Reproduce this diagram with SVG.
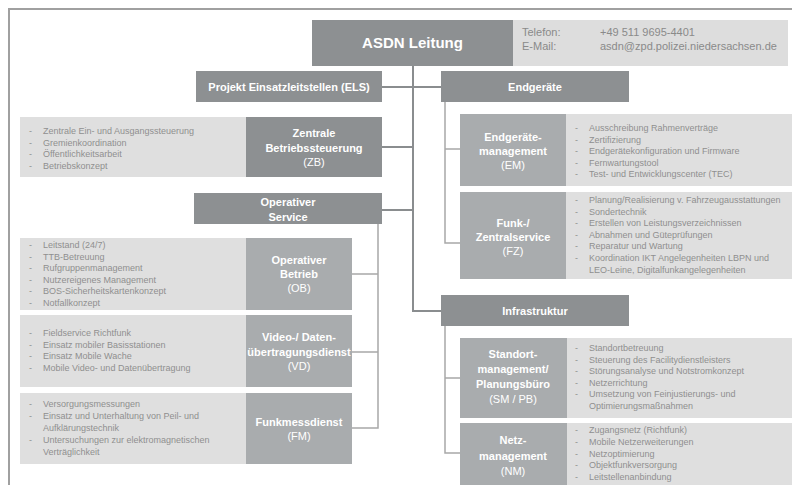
<svg xmlns="http://www.w3.org/2000/svg" width="792" height="485" viewBox="0 0 792 485">
<style>
text{font-family:"Liberation Sans",Arial,sans-serif}
.dark{fill:#8d9092}
.mid{fill:#a9acae}
.light{fill:#dfdfdf}
.h{fill:#fff;font-weight:bold;font-size:11px;text-anchor:middle}
.hn{fill:#fff;font-size:11px;text-anchor:middle}
.li{fill:#8f8f8f;font-size:9px}
.ct{fill:#8a8a8a;font-size:11px}
.trunk{fill:none;stroke:#8a8d8f;stroke-width:2}
.sub{fill:none;stroke:#a8a8a8;stroke-width:1.5}
</style>
<rect width="792" height="485" fill="#fff"/>
<path d="M9,485 V9 H792" fill="none" stroke="#a0a0a0" stroke-width="2"/>
<g id="connectors">
<path class="trunk" d="M413,66 V311 H441"/>
<path class="trunk" d="M382,87 H441"/>
<path class="trunk" d="M382,147 H413"/>
<path class="trunk" d="M382,210 H413"/>
<path class="sub" d="M445,102 V243 H460 M445,149 H460"/>
<path class="sub" d="M378,224 V428 H352 M378,274 H352 M378,352 H352"/>
<path class="sub" d="M445,326 V453 H460 M445,378 H460"/>
</g>
<g id="asdn">
<rect class="dark" x="312" y="20" width="201" height="46"/>
<text x="412.5" y="48" fill="#fff" font-weight="bold" font-size="15" text-anchor="middle">ASDN Leitung</text>
</g>
<g id="contact">
<rect fill="#dddddd" x="513" y="20" width="275" height="46"/>
<text class="ct" x="522" y="36">Telefon:</text>
<text class="ct" x="522" y="49.5">E-Mail:</text>
<text class="ct" x="600" y="36">+49 511 9695-4401</text>
<text class="ct" x="600" y="49.5">asdn@zpd.polizei.niedersachsen.de</text>
</g>
<g id="els">
<rect class="dark" x="196" y="71" width="186" height="31"/>
<text class="h" x="289" y="90.5">Projekt Einsatzleitstellen (ELS)</text>
</g>
<g id="endgeraete">
<rect class="dark" x="441" y="71" width="188" height="31"/>
<text class="h" x="535" y="90.5">Endgeräte</text>
</g>
<g id="zb">
<rect class="light" x="20" y="117" width="226" height="60"/>
<rect class="dark" x="246" y="117" width="136" height="60"/>
<text class="h" x="314" y="137">Zentrale</text>
<text class="h" x="314" y="152">Betriebssteuerung</text>
<text class="hn" x="314" y="166">(ZB)</text>
<text class="li"><tspan x="29" y="134">-</tspan><tspan x="43" y="134">Zentrale Ein- und Ausgangssteuerung</tspan><tspan x="29" y="145.5">-</tspan><tspan x="43" y="145.5">Gremienkoordination</tspan><tspan x="29" y="157">-</tspan><tspan x="43" y="157">Öffentlichkeitsarbeit</tspan><tspan x="29" y="168.5">-</tspan><tspan x="43" y="168.5">Betriebskonzept</tspan></text>
</g>
<g id="em">
<rect class="mid" x="460" y="114" width="106" height="72"/>
<rect class="light" x="566" y="114" width="226" height="72"/>
<text class="h" x="513" y="141">Endgeräte-</text>
<text class="h" x="513" y="155">management</text>
<text class="hn" x="513" y="169">(EM)</text>
<text class="li"><tspan x="575" y="131">-</tspan><tspan x="589" y="131">Ausschreibung Rahmenverträge</tspan><tspan x="575" y="142.6">-</tspan><tspan x="589" y="142.6">Zertifizierung</tspan><tspan x="575" y="154.2">-</tspan><tspan x="589" y="154.2">Endgerätekonfiguration und Firmware</tspan><tspan x="575" y="165.8">-</tspan><tspan x="589" y="165.8">Fernwartungstool</tspan><tspan x="575" y="177.4">-</tspan><tspan x="589" y="177.4">Test- und Entwicklungscenter (TEC)</tspan></text>
</g>
<g id="fz">
<rect class="mid" x="460" y="192" width="106" height="87"/>
<rect class="light" x="566" y="192" width="226" height="87"/>
<text class="h" x="513" y="227">Funk-/</text>
<text class="h" x="513" y="241">Zentralservice</text>
<text class="hn" x="513" y="255">(FZ)</text>
<text class="li"><tspan x="575" y="203">-</tspan><tspan x="589" y="203">Planung/Realisierung v. Fahrzeugausstattungen</tspan><tspan x="575" y="214.6">-</tspan><tspan x="589" y="214.6">Sondertechnik</tspan><tspan x="575" y="226.2">-</tspan><tspan x="589" y="226.2">Erstellen von Leistungsverzeichnissen</tspan><tspan x="575" y="237.8">-</tspan><tspan x="589" y="237.8">Abnahmen und Güteprüfungen</tspan><tspan x="575" y="249.4">-</tspan><tspan x="589" y="249.4">Reparatur und Wartung</tspan><tspan x="575" y="261">-</tspan><tspan x="589" y="261">Koordination IKT Angelegenheiten LBPN und</tspan><tspan x="589" y="273">LEO-Leine, Digitalfunkangelegenheiten</tspan></text>
</g>
<g id="os">
<rect class="dark" x="194" y="193" width="188" height="31"/>
<text class="h" x="288" y="206">Operativer</text>
<text class="h" x="288" y="221">Service</text>
</g>
<g id="ob">
<rect class="light" x="20" y="238" width="226" height="72"/>
<rect class="mid" x="246" y="238" width="106" height="72"/>
<text class="h" x="299" y="264">Operativer</text>
<text class="h" x="299" y="278">Betrieb</text>
<text class="hn" x="299" y="292">(OB)</text>
<text class="li"><tspan x="29" y="248">-</tspan><tspan x="43" y="248">Leitstand (24/7)</tspan><tspan x="29" y="259.5">-</tspan><tspan x="43" y="259.5">TTB-Betreuung</tspan><tspan x="29" y="271">-</tspan><tspan x="43" y="271">Rufgruppenmanagement</tspan><tspan x="29" y="282.5">-</tspan><tspan x="43" y="282.5">Nutzereigenes Management</tspan><tspan x="29" y="294">-</tspan><tspan x="43" y="294">BOS-Sicherheitskartenkonzept</tspan><tspan x="29" y="305.5">-</tspan><tspan x="43" y="305.5">Notfallkonzept</tspan></text>
</g>
<g id="vd">
<rect class="light" x="20" y="315" width="226" height="72"/>
<rect class="mid" x="246" y="315" width="106" height="72"/>
<text class="h" x="299" y="341">Video-/ Daten-</text>
<text class="h" x="299" y="356">übertragungsdienst</text>
<text class="hn" x="299" y="370">(VD)</text>
<text class="li"><tspan x="29" y="336">-</tspan><tspan x="43" y="336">Fieldservice Richtfunk</tspan><tspan x="29" y="347.6">-</tspan><tspan x="43" y="347.6">Einsatz mobiler Basisstationen</tspan><tspan x="29" y="359.2">-</tspan><tspan x="43" y="359.2">Einsatz Mobile Wache</tspan><tspan x="29" y="370.8">-</tspan><tspan x="43" y="370.8">Mobile Video- und Datenübertragung</tspan></text>
</g>
<g id="fm">
<rect class="light" x="20" y="393" width="226" height="71"/>
<rect class="mid" x="246" y="393" width="106" height="71"/>
<text class="h" x="299" y="426">Funkmessdienst</text>
<text class="hn" x="299" y="440">(FM)</text>
<text class="li"><tspan x="29" y="407">-</tspan><tspan x="43" y="407">Versorgungsmessungen</tspan><tspan x="29" y="419">-</tspan><tspan x="43" y="419">Einsatz und Unterhaltung von Peil- und</tspan><tspan x="43" y="431">Aufklärungstechnik</tspan><tspan x="29" y="443">-</tspan><tspan x="43" y="443">Untersuchungen zur elektromagnetischen</tspan><tspan x="43" y="455">Verträglichkeit</tspan></text>
</g>
<g id="infra">
<rect class="dark" x="441" y="295" width="188" height="31"/>
<text class="h" x="535" y="314.5">Infrastruktur</text>
</g>
<g id="sm">
<rect class="mid" x="460" y="338" width="107" height="80"/>
<rect class="light" x="567" y="338" width="225" height="80"/>
<text class="h" x="513" y="358">Standort-</text>
<text class="h" x="513" y="373">management/</text>
<text class="h" x="513" y="388">Planungsbüro</text>
<text class="hn" x="513" y="403">(SM / PB)</text>
<text class="li"><tspan x="575" y="351">-</tspan><tspan x="589" y="351">Standortbetreuung</tspan><tspan x="575" y="362.6">-</tspan><tspan x="589" y="362.6">Steuerung des Facilitydienstleisters</tspan><tspan x="575" y="374.2">-</tspan><tspan x="589" y="374.2">Störungsanalyse und Notstromkonzept</tspan><tspan x="575" y="385.8">-</tspan><tspan x="589" y="385.8">Netzerrichtung</tspan><tspan x="575" y="397.4">-</tspan><tspan x="589" y="397.4">Umsetzung von Feinjustierungs- und</tspan><tspan x="589" y="409">Optimierungsmaßnahmen</tspan></text>
</g>
<g id="nm">
<rect class="mid" x="460" y="423" width="107" height="62"/>
<rect class="light" x="567" y="423" width="225" height="62"/>
<text class="h" x="513" y="444">Netz-</text>
<text class="h" x="513" y="460">management</text>
<text class="hn" x="513" y="475">(NM)</text>
<text class="li"><tspan x="575" y="433">-</tspan><tspan x="589" y="433">Zugangsnetz (Richtfunk)</tspan><tspan x="575" y="444.8">-</tspan><tspan x="589" y="444.8">Mobile Netzerweiterungen</tspan><tspan x="575" y="456.6">-</tspan><tspan x="589" y="456.6">Netzoptimierung</tspan><tspan x="575" y="468.4">-</tspan><tspan x="589" y="468.4">Objektfunkversorgung</tspan><tspan x="575" y="480">-</tspan><tspan x="589" y="480">Leitstellenanbindung</tspan></text>
</g>
</svg>
